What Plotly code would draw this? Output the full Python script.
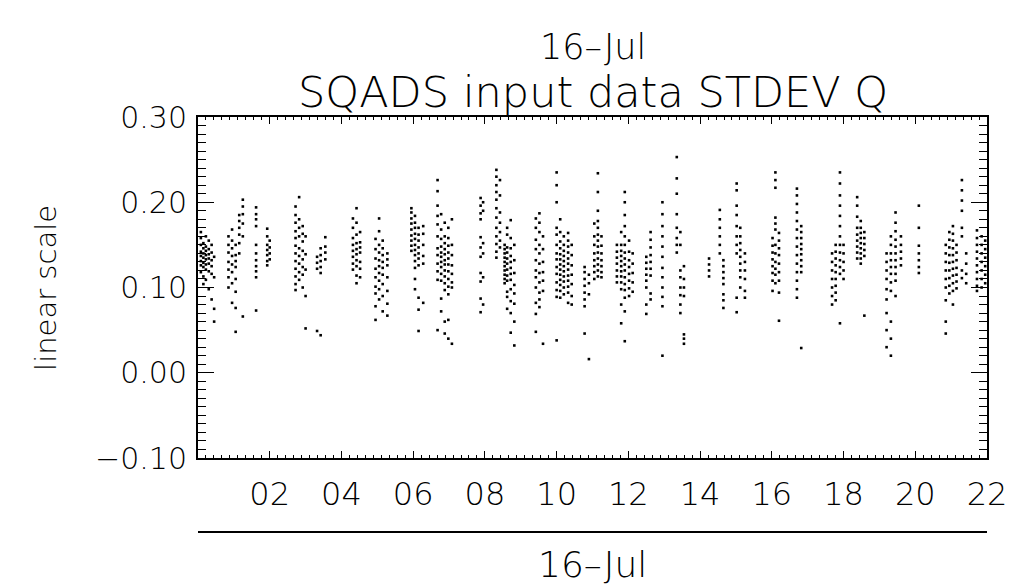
import plotly.graph_objects as go

# SQADS STDEV Q samples, grouped by overpass.
# Each overpass: sample times (hours of 16-Jul) and the values recorded at each time.
pass01_hours = [0.08, 0.15, 0.22, 0.30, 0.38, 0.45]
pass01_q = [[0.165, 0.158, 0.150, 0.142, 0.137, 0.131, 0.126, 0.118],
            [0.152, 0.146, 0.140, 0.135, 0.129, 0.124, 0.113, 0.104],
            [0.160, 0.148, 0.143, 0.138, 0.133, 0.127, 0.121, 0.109],
            [0.155, 0.145, 0.139, 0.134, 0.128, 0.119, 0.098],
            [0.150, 0.141, 0.132, 0.125, 0.116, 0.086],
            [0.136, 0.112, 0.075, 0.060]]

pass02_hours = [0.85, 0.95, 1.05, 1.15, 1.25]
pass02_q = [[0.160, 0.150, 0.141, 0.130, 0.121, 0.112, 0.100],
            [0.168, 0.155, 0.146, 0.137, 0.127, 0.118, 0.105, 0.082],
            [0.150, 0.138, 0.131, 0.124, 0.110, 0.095, 0.076, 0.048],
            [0.185, 0.178, 0.170, 0.162, 0.152, 0.140],
            [0.203, 0.195, 0.186, 0.175, 0.160, 0.066]]

pass03_hours = [1.62, 1.93, 2.00]
pass03_q = [[0.194, 0.186, 0.180, 0.172, 0.150, 0.140, 0.132, 0.125, 0.119, 0.112, 0.073],
            [0.169, 0.160, 0.150, 0.144, 0.138, 0.131, 0.126],
            [0.155, 0.147, 0.140, 0.133]]

pass04_hours = [2.72, 2.82, 2.92, 3.00, 3.32, 3.42, 3.55]
pass04_q = [[0.195, 0.185, 0.176, 0.166, 0.158, 0.149, 0.140, 0.131, 0.122, 0.113, 0.104, 0.097],
            [0.206, 0.180, 0.170, 0.160, 0.146, 0.137, 0.128, 0.118, 0.109],
            [0.172, 0.163, 0.154, 0.143, 0.133, 0.124, 0.115, 0.100],
            [0.160, 0.139, 0.121, 0.090, 0.052],
            [0.136, 0.129, 0.122, 0.049],
            [0.146, 0.138, 0.131, 0.124, 0.117, 0.044],
            [0.159, 0.148, 0.141, 0.133]]

pass05_hours = [4.32, 4.42, 4.52]
pass05_q = [[0.181, 0.170, 0.158, 0.150, 0.143, 0.136, 0.128, 0.121],
            [0.193, 0.176, 0.162, 0.152, 0.145, 0.139, 0.132, 0.125, 0.114, 0.105],
            [0.165, 0.153, 0.147, 0.141, 0.130, 0.122, 0.112]]

pass06_hours = [4.95, 5.05, 5.15, 5.28]
pass06_q = [[0.157, 0.145, 0.134, 0.122, 0.112, 0.101, 0.093, 0.078, 0.062],
            [0.181, 0.166, 0.150, 0.141, 0.132, 0.125, 0.117, 0.108, 0.098, 0.086],
            [0.155, 0.146, 0.138, 0.130, 0.123, 0.115, 0.104, 0.090, 0.072],
            [0.140, 0.133, 0.126, 0.112, 0.096, 0.081, 0.067]]

pass07_hours = [5.95, 6.05, 6.15, 6.28]
pass07_q = [[0.193, 0.188, 0.181, 0.175, 0.168, 0.161, 0.155, 0.149, 0.143],
            [0.184, 0.176, 0.170, 0.163, 0.157, 0.150, 0.144, 0.138, 0.131, 0.123, 0.110, 0.098],
            [0.170, 0.162, 0.155, 0.147, 0.140, 0.134, 0.126, 0.088, 0.074, 0.049],
            [0.172, 0.163, 0.150, 0.137, 0.128, 0.082]]

pass08_hours = [6.68, 6.78, 6.88, 6.98, 7.08]
pass08_q = [[0.226, 0.213, 0.196, 0.184, 0.174, 0.160, 0.146, 0.138, 0.128, 0.119, 0.109, 0.050],
            [0.186, 0.168, 0.157, 0.148, 0.141, 0.136, 0.130, 0.124, 0.116, 0.108, 0.087, 0.072],
            [0.176, 0.160, 0.152, 0.145, 0.139, 0.132, 0.127, 0.120, 0.113, 0.105, 0.097, 0.060, 0.046],
            [0.170, 0.158, 0.149, 0.141, 0.134, 0.127, 0.119, 0.110, 0.101, 0.092, 0.062, 0.040],
            [0.180, 0.150, 0.138, 0.126, 0.116, 0.106, 0.100, 0.034]]

pass09_hours = [7.88, 7.95]
pass09_q = [[0.205, 0.196, 0.187, 0.180, 0.159, 0.147, 0.136, 0.117, 0.107, 0.087, 0.071],
            [0.200, 0.190, 0.152, 0.140, 0.112, 0.080]]

pass10_hours = [8.32, 8.42, 8.55, 8.62, 8.72, 8.82]
pass10_q = [[0.238, 0.230, 0.220, 0.212, 0.203, 0.193, 0.182, 0.170, 0.160, 0.151, 0.142, 0.135],
            [0.226, 0.208, 0.188, 0.176, 0.165, 0.155, 0.147],
            [0.150, 0.145, 0.140, 0.135, 0.130, 0.125, 0.120, 0.115, 0.110, 0.105],
            [0.170, 0.162, 0.147, 0.141, 0.134, 0.128, 0.121, 0.114, 0.108, 0.095, 0.089, 0.075],
            [0.179, 0.158, 0.146, 0.137, 0.130, 0.123, 0.116, 0.109, 0.098, 0.084, 0.070, 0.047],
            [0.150, 0.132, 0.117, 0.103, 0.093, 0.081, 0.060, 0.032]]

pass11_hours = [9.42, 9.52, 9.62]
pass11_q = [[0.181, 0.170, 0.156, 0.145, 0.132, 0.120, 0.112, 0.100, 0.082, 0.069, 0.048],
            [0.187, 0.176, 0.165, 0.150, 0.140, 0.128, 0.117, 0.106, 0.094, 0.086, 0.077],
            [0.160, 0.145, 0.130, 0.118, 0.108, 0.096, 0.034]]

pass12_hours = [10.00, 10.10, 10.20, 10.32, 10.42]
pass12_q = [[0.235, 0.220, 0.200, 0.170, 0.162, 0.150, 0.140, 0.133, 0.124, 0.116, 0.106, 0.097, 0.089, 0.038],
            [0.180, 0.165, 0.154, 0.146, 0.139, 0.133, 0.127, 0.121, 0.115, 0.109, 0.103, 0.096, 0.088],
            [0.160, 0.150, 0.143, 0.137, 0.131, 0.125, 0.119, 0.113, 0.107, 0.100, 0.092],
            [0.164, 0.155, 0.148, 0.141, 0.134, 0.128, 0.121, 0.114, 0.108, 0.101, 0.094, 0.082],
            [0.150, 0.138, 0.126, 0.115, 0.104, 0.090, 0.080]]

pass13_hours = [10.78, 10.90, 11.05, 11.15, 11.25]
pass13_q = [[0.124, 0.118, 0.110, 0.102, 0.094, 0.086, 0.078, 0.046],
            [0.115, 0.105, 0.092, 0.016],
            [0.175, 0.160, 0.150, 0.140, 0.132, 0.125, 0.118, 0.110],
            [0.234, 0.212, 0.190, 0.178, 0.170, 0.162, 0.155, 0.148, 0.141, 0.134, 0.127, 0.120, 0.113],
            [0.160, 0.149, 0.140, 0.132, 0.125, 0.118, 0.112]]

pass14_hours = [11.68, 11.80, 11.90, 12.02, 12.12]
pass14_q = [[0.150, 0.142, 0.135, 0.128, 0.120, 0.113, 0.106],
            [0.165, 0.150, 0.143, 0.137, 0.131, 0.125, 0.119, 0.113, 0.106, 0.098, 0.080, 0.058],
            [0.212, 0.200, 0.185, 0.172, 0.160, 0.150, 0.141, 0.134, 0.127, 0.120, 0.112, 0.104, 0.097, 0.088, 0.072, 0.037],
            [0.155, 0.142, 0.132, 0.124, 0.116, 0.108, 0.099, 0.090],
            [0.140, 0.128, 0.117, 0.106, 0.095]]

pass15_hours = [12.50, 12.62, 12.95]
pass15_q = [[0.136, 0.129, 0.122, 0.115, 0.108, 0.100, 0.080, 0.069],
            [0.165, 0.156, 0.147, 0.138, 0.130, 0.122, 0.114, 0.093, 0.086],
            [0.200, 0.186, 0.172, 0.160, 0.148, 0.136, 0.123, 0.112, 0.100, 0.089, 0.078, 0.020]]

pass16_hours = [13.35, 13.45, 13.55]
pass16_q = [[0.253, 0.228, 0.210, 0.186, 0.170, 0.158, 0.150, 0.141],
            [0.165, 0.150, 0.120, 0.112, 0.100, 0.091, 0.080, 0.070],
            [0.125, 0.110, 0.100, 0.090, 0.045, 0.040, 0.034]]

pass17_hours = [14.25, 14.55, 14.65]
pass17_q = [[0.134, 0.127, 0.120, 0.113],
            [0.191, 0.180, 0.170, 0.160, 0.150, 0.140],
            [0.132, 0.125, 0.118, 0.111, 0.104, 0.092, 0.085, 0.076]]

pass18_hours = [15.02, 15.12, 15.25]
pass18_q = [[0.222, 0.214, 0.196, 0.185, 0.172, 0.160, 0.150, 0.140, 0.088, 0.071],
            [0.170, 0.160, 0.152, 0.144, 0.136, 0.128, 0.120, 0.112, 0.100],
            [0.140, 0.130, 0.120, 0.110, 0.096, 0.088]]

pass19_hours = [16.02, 16.10, 16.20]
pass19_q = [[0.158, 0.149, 0.141, 0.133, 0.125, 0.117, 0.108, 0.096],
            [0.235, 0.226, 0.217, 0.182, 0.175, 0.168, 0.150, 0.140, 0.130, 0.122, 0.115, 0.105],
            [0.164, 0.155, 0.146, 0.138, 0.128, 0.118, 0.108, 0.094, 0.061]]

pass20_hours = [16.70, 16.82]
pass20_q = [[0.216, 0.208, 0.198, 0.188, 0.178, 0.168, 0.158, 0.148, 0.138, 0.128, 0.118, 0.108, 0.098, 0.088],
            [0.172, 0.165, 0.158, 0.151, 0.145, 0.139, 0.132, 0.125, 0.118, 0.029]]

pass21_hours = [17.68, 17.78, 17.90, 18.00]
pass21_q = [[0.140, 0.130, 0.120, 0.110, 0.100, 0.090, 0.080],
            [0.150, 0.142, 0.134, 0.126, 0.118, 0.110, 0.102, 0.094, 0.085],
            [0.235, 0.222, 0.208, 0.196, 0.184, 0.172, 0.160, 0.150, 0.141, 0.132, 0.124, 0.116, 0.058],
            [0.150, 0.140, 0.130, 0.120, 0.110]]

pass22_hours = [18.38, 18.48, 18.58]
pass22_q = [[0.206, 0.196, 0.183, 0.170, 0.162, 0.155, 0.148, 0.141, 0.134],
            [0.178, 0.170, 0.164, 0.158, 0.152, 0.146, 0.140, 0.134, 0.128],
            [0.165, 0.158, 0.151, 0.144, 0.137, 0.067]]

pass23_hours = [19.20, 19.32, 19.45, 19.60]
pass23_q = [[0.140, 0.130, 0.120, 0.110, 0.098, 0.086, 0.070, 0.050, 0.030],
            [0.160, 0.150, 0.140, 0.132, 0.124, 0.116, 0.106, 0.096, 0.060, 0.040, 0.020],
            [0.188, 0.176, 0.166, 0.156, 0.148, 0.140, 0.132, 0.124, 0.116, 0.108, 0.090],
            [0.160, 0.150, 0.142, 0.134, 0.126]]

pass24_hours = [20.10]
pass24_q = [[0.196, 0.170, 0.149, 0.140, 0.132, 0.124, 0.117]]

pass25_hours = [20.85, 20.95, 21.05, 21.15, 21.30, 21.42]
pass25_q = [[0.150, 0.140, 0.130, 0.120, 0.110, 0.100, 0.085, 0.060, 0.046],
            [0.165, 0.156, 0.147, 0.138, 0.129, 0.120, 0.111, 0.102, 0.093],
            [0.172, 0.163, 0.155, 0.146, 0.138, 0.130, 0.122, 0.114, 0.105, 0.096, 0.080],
            [0.150, 0.141, 0.132, 0.123, 0.115, 0.107, 0.099],
            [0.226, 0.214, 0.202, 0.190, 0.170, 0.160, 0.120, 0.111],
            [0.140, 0.128, 0.116, 0.105]]

pass26_hours = [21.72, 21.85, 21.95]
pass26_q = [[0.167, 0.158, 0.150, 0.142, 0.134, 0.126, 0.118, 0.110, 0.102, 0.096],
            [0.160, 0.150, 0.140, 0.130, 0.120, 0.110, 0.100],
            [0.155, 0.145, 0.135, 0.125, 0.115, 0.105]]

x_tick_hours = [2, 4, 6, 8, 10, 12, 14, 16, 18, 20, 22]
x_tick_text = ["02", "04", "06", "08", "10", "12", "14", "16", "18", "20", "22"]
date_label = "16\u2013Jul"
plot_title = "SQADS input data STDEV Q"
y_title = "linear scale"

passes = [
    (pass01_hours, pass01_q), (pass02_hours, pass02_q), (pass03_hours, pass03_q),
    (pass04_hours, pass04_q), (pass05_hours, pass05_q), (pass06_hours, pass06_q),
    (pass07_hours, pass07_q), (pass08_hours, pass08_q), (pass09_hours, pass09_q),
    (pass10_hours, pass10_q), (pass11_hours, pass11_q), (pass12_hours, pass12_q),
    (pass13_hours, pass13_q), (pass14_hours, pass14_q), (pass15_hours, pass15_q),
    (pass16_hours, pass16_q), (pass17_hours, pass17_q), (pass18_hours, pass18_q),
    (pass19_hours, pass19_q), (pass20_hours, pass20_q), (pass21_hours, pass21_q),
    (pass22_hours, pass22_q), (pass23_hours, pass23_q), (pass24_hours, pass24_q),
    (pass25_hours, pass25_q), (pass26_hours, pass26_q),
]

xs, ys = [], []
for hours, columns in passes:
    for h, col in zip(hours, columns):
        for v in col:
            xs.append(h)
            ys.append(v)

FONT = "DejaVu Sans"
WEIGHT = 200

fig = go.Figure()
fig.add_trace(go.Scatter(
    x=xs, y=ys, mode="markers",
    marker=dict(symbol="square", size=2.6, color="black", line=dict(width=0)),
    hoverinfo="skip", showlegend=False,
))

axis_common = dict(
    showgrid=False, zeroline=False, showline=True, linecolor="black", linewidth=2,
    mirror="allticks", ticks="inside", tickcolor="black", tickwidth=1,
)

fig.update_xaxes(
    range=[0, 22], tickmode="array", tickvals=x_tick_hours, ticktext=x_tick_text,
    ticklen=7, ticklabelstandoff=7,
    tickfont=dict(family=FONT, size=32, color="black", weight=WEIGHT),
    minor=dict(ticks="inside", ticklen=3, tickcolor="black", tickwidth=1,
               tick0=0, dtick=2 / 9, showgrid=False),
    **axis_common,
)
fig.update_yaxes(
    range=[-0.10, 0.30], tick0=0, dtick=0.1, tickformat=".2f",
    ticklen=16, ticklabelstandoff=3,
    tickfont=dict(family=FONT, size=30, color="black", weight=WEIGHT),
    minor=dict(ticks="inside", ticklen=8, tickcolor="black", tickwidth=1,
               tick0=0, dtick=0.01, showgrid=False),
    **axis_common,
)

fig.add_shape(type="line", xref="paper", yref="paper", x0=0, x1=1, y0=-0.217, y1=-0.217,
              line=dict(color="black", width=2))

annotations = [
    dict(text=date_label, x=0.5, y=1.205, size=35),
    dict(text=plot_title, x=0.5, y=1.074, size=43),
    dict(text=date_label, x=0.5, y=-0.313, size=36),
]
for a in annotations:
    fig.add_annotation(text=a["text"], xref="paper", yref="paper", x=a["x"], y=a["y"],
                       xanchor="center", yanchor="middle", showarrow=False,
                       font=dict(family=FONT, size=a["size"], color="black", weight=WEIGHT))
fig.add_annotation(text=y_title, xref="paper", yref="paper", x=-0.1934, y=0.5,
                   xanchor="center", yanchor="middle", textangle=-90, showarrow=False,
                   font=dict(family=FONT, size=29, color="black", weight=WEIGHT))

fig.update_layout(
    width=1019, height=587,
    margin=dict(l=198, r=30, t=117, b=129, pad=0),
    paper_bgcolor="white", plot_bgcolor="white",
    showlegend=False,
)

fig.write_html("out.html")
